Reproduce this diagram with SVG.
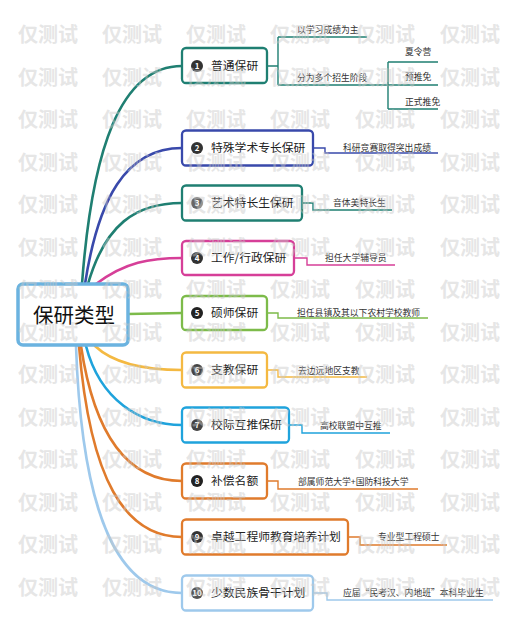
<svg xmlns="http://www.w3.org/2000/svg" xmlns:xlink="http://www.w3.org/1999/xlink" width="513" height="630" viewBox="0 0 513 630">
<style>
text{font-family:"Noto Sans CJK SC","Noto Sans",sans-serif}
.curve{fill:none;stroke-width:2.6;stroke-linecap:round}
.sub{fill:none;stroke-width:1.4}
.box{fill:#fff;stroke-width:2.3}
.lbl{font-size:11.8px;fill:#222}
.st{font-size:8.8px;fill:#333}
.num{font-size:8px;font-weight:bold;fill:#fff;text-anchor:middle}
.wm{font-size:20px;font-weight:bold;fill:#c8c8c8;opacity:0.45}
</style>
<defs><text id="wm" class="wm">仅测试</text></defs>
<rect width="513" height="630" fill="#fff"/>
<g id="connectors">
<path class="curve" stroke="#1f7f72" d="M82 284 C92 150,120 66,182 66"/>
<path class="curve" stroke="#3949ab" d="M85 284 C98 200,125 148,182 148"/>
<path class="curve" stroke="#1f7f72" d="M88 284 C105 225,135 203,182 203"/>
<path class="curve" stroke="#d63f98" d="M96 284 C125 262,150 258,182 258"/>
<path class="curve" stroke="#7dbb4a" d="M128 314 L182 313"/>
<path class="curve" stroke="#f4b942" d="M95 346 C115 365,150 370,182 370"/>
<path class="curve" stroke="#1fa3dc" d="M86 346 C100 400,140 425,182 425"/>
<path class="curve" stroke="#e07b2c" d="M81 346 C95 440,130 481,182 481"/>
<path class="curve" stroke="#e07b2c" d="M79 346 C90 480,125 537,182 537"/>
<path class="curve" stroke="#9ec9ec" d="M76 346 C82 520,120 593,182 593"/>
<path class="sub" stroke="#1f7f72" d="M267 66 H278 M278 37 V85 M278 37 H367 M278 85 H388 M388 62 V109 M388 62 H438 M388 85 H438 M388 109 H438"/>
<path class="sub" stroke="#3949ab" d="M313 148 H325 V153 H438"/>
<path class="sub" stroke="#1f7f72" d="M302 203 H313 V210 H392"/>
<path class="sub" stroke="#d63f98" d="M294 258 H307 V265 H395"/>
<path class="sub" stroke="#7dbb4a" d="M267 313 H278 V318 H428"/>
<path class="sub" stroke="#f4b942" d="M267 370 H278 V377 H367"/>
<path class="sub" stroke="#1fa3dc" d="M289 425 H302 V433 H390"/>
<path class="sub" stroke="#e07b2c" d="M267 481 H278 V489 H418"/>
<path class="sub" stroke="#e07b2c" d="M348 537 H360 V545 H447"/>
<path class="sub" stroke="#9ec9ec" d="M313 593 H327 V600 H493"/>
</g>
<g id="subtopics">
<text class="st" x="297" y="33">以学习成绩为主</text>
<text class="st" x="297" y="81">分为多个招生阶段</text>
<text class="st" x="405" y="55">夏令营</text>
<text class="st" x="405" y="80">预推免</text>
<text class="st" x="405" y="105">正式推免</text>
<text class="st" x="343" y="151">科研竞赛取得突出成绩</text>
<text class="st" x="333" y="206">音体美特长生</text>
<text class="st" x="325" y="261">担任大学辅导员</text>
<text class="st" x="297" y="316">担任县镇及其以下农村学校教师</text>
<text class="st" x="298" y="374">去边远地区支教</text>
<text class="st" x="320" y="429">高校联盟中互推</text>
<text class="st" x="298" y="485">部属师范大学+国防科技大学</text>
<text class="st" x="378" y="540">专业型工程硕士</text>
<text class="st" x="343" y="596">应届“民考汉、内地班”本科毕业生</text>
</g>
<g id="root">
<rect x="18" y="284" width="110" height="61" rx="5" fill="#fff" stroke="#6bb3e0" stroke-width="3.5"/>
<text x="74" y="323" font-size="20.5" fill="#111" text-anchor="middle">保研类型</text>
</g>
<g id="n1"><rect class="box" stroke="#1f7f72" x="182" y="48" width="85" height="35" rx="4"/><circle cx="197" cy="66" r="6" fill="#333"/><text class="num" x="197" y="69">1</text><text class="lbl" x="211" y="70">普通保研</text></g>
<g id="n2"><rect class="box" stroke="#3949ab" x="182" y="130.5" width="131" height="35" rx="4"/><circle cx="197" cy="148" r="6" fill="#333"/><text class="num" x="197" y="151">2</text><text class="lbl" x="211" y="152">特殊学术专长保研</text></g>
<g id="n3"><rect class="box" stroke="#1f7f72" x="182" y="185.5" width="120" height="35" rx="4"/><circle cx="197" cy="203" r="6" fill="#666"/><text class="num" x="197" y="206">3</text><text class="lbl" x="211" y="207">艺术特长生保研</text></g>
<g id="n4"><rect class="box" stroke="#d63f98" x="182" y="241" width="112" height="34" rx="4"/><circle cx="197" cy="258" r="6" fill="#333"/><text class="num" x="197" y="261">4</text><text class="lbl" x="211" y="262">工作/行政保研</text></g>
<g id="n5"><rect class="box" stroke="#7dbb4a" x="182" y="296" width="85" height="34" rx="4"/><circle cx="197" cy="313" r="6" fill="#222"/><text class="num" x="197" y="316">5</text><text class="lbl" x="211" y="317">硕师保研</text></g>
<g id="n6"><rect class="box" stroke="#f4b942" x="182" y="352.5" width="85" height="35" rx="4"/><circle cx="197" cy="370" r="6" fill="#444"/><text class="num" x="197" y="373">6</text><text class="lbl" x="211" y="374">支教保研</text></g>
<g id="n7"><rect class="box" stroke="#1fa3dc" x="182" y="407.5" width="107" height="35" rx="4"/><circle cx="197" cy="425" r="6" fill="#444"/><text class="num" x="197" y="428">7</text><text class="lbl" x="211" y="429">校际互推保研</text></g>
<g id="n8"><rect class="box" stroke="#e07b2c" x="182" y="463.5" width="85" height="35" rx="4"/><circle cx="197" cy="481" r="6" fill="#222"/><text class="num" x="197" y="484">8</text><text class="lbl" x="211" y="485">补偿名额</text></g>
<g id="n9"><rect class="box" stroke="#e07b2c" x="182" y="519.5" width="166" height="35" rx="4"/><circle cx="197" cy="537" r="6" fill="#333"/><text class="num" x="197" y="540">9</text><text class="lbl" x="211" y="541">卓越工程师教育培养计划</text></g>
<g id="n10"><rect class="box" stroke="#9ec9ec" x="182" y="575.5" width="131" height="35" rx="4"/><circle cx="197" cy="593" r="6" fill="#555"/><text class="num" x="197" y="596" font-size="6.5">10</text><text class="lbl" x="211" y="597" fill="#444">少数民族骨干计划</text></g>
<g id="watermark">
<use href="#wm" x="18" y="42"/><use href="#wm" x="102" y="42"/><use href="#wm" x="186" y="42"/><use href="#wm" x="270" y="42"/><use href="#wm" x="355" y="42"/><use href="#wm" x="440" y="42"/>
<use href="#wm" x="18" y="84.5"/><use href="#wm" x="102" y="84.5"/><use href="#wm" x="186" y="84.5"/><use href="#wm" x="270" y="84.5"/><use href="#wm" x="355" y="84.5"/><use href="#wm" x="440" y="84.5"/>
<use href="#wm" x="18" y="127"/><use href="#wm" x="102" y="127"/><use href="#wm" x="186" y="127"/><use href="#wm" x="270" y="127"/><use href="#wm" x="355" y="127"/><use href="#wm" x="440" y="127"/>
<use href="#wm" x="18" y="169.5"/><use href="#wm" x="102" y="169.5"/><use href="#wm" x="186" y="169.5"/><use href="#wm" x="270" y="169.5"/><use href="#wm" x="355" y="169.5"/><use href="#wm" x="440" y="169.5"/>
<use href="#wm" x="18" y="212"/><use href="#wm" x="102" y="212"/><use href="#wm" x="186" y="212"/><use href="#wm" x="270" y="212"/><use href="#wm" x="355" y="212"/><use href="#wm" x="440" y="212"/>
<use href="#wm" x="18" y="254.5"/><use href="#wm" x="102" y="254.5"/><use href="#wm" x="186" y="254.5"/><use href="#wm" x="270" y="254.5"/><use href="#wm" x="355" y="254.5"/><use href="#wm" x="440" y="254.5"/>
<use href="#wm" x="18" y="297"/><use href="#wm" x="102" y="297"/><use href="#wm" x="186" y="297"/><use href="#wm" x="270" y="297"/><use href="#wm" x="355" y="297"/><use href="#wm" x="440" y="297"/>
<use href="#wm" x="18" y="339.5"/><use href="#wm" x="102" y="339.5"/><use href="#wm" x="186" y="339.5"/><use href="#wm" x="270" y="339.5"/><use href="#wm" x="355" y="339.5"/><use href="#wm" x="440" y="339.5"/>
<use href="#wm" x="18" y="382"/><use href="#wm" x="102" y="382"/><use href="#wm" x="186" y="382"/><use href="#wm" x="270" y="382"/><use href="#wm" x="355" y="382"/><use href="#wm" x="440" y="382"/>
<use href="#wm" x="18" y="424.5"/><use href="#wm" x="102" y="424.5"/><use href="#wm" x="186" y="424.5"/><use href="#wm" x="270" y="424.5"/><use href="#wm" x="355" y="424.5"/><use href="#wm" x="440" y="424.5"/>
<use href="#wm" x="18" y="467"/><use href="#wm" x="102" y="467"/><use href="#wm" x="186" y="467"/><use href="#wm" x="270" y="467"/><use href="#wm" x="355" y="467"/><use href="#wm" x="440" y="467"/>
<use href="#wm" x="18" y="509.5"/><use href="#wm" x="102" y="509.5"/><use href="#wm" x="186" y="509.5"/><use href="#wm" x="270" y="509.5"/><use href="#wm" x="355" y="509.5"/><use href="#wm" x="440" y="509.5"/>
<use href="#wm" x="18" y="552"/><use href="#wm" x="102" y="552"/><use href="#wm" x="186" y="552"/><use href="#wm" x="270" y="552"/><use href="#wm" x="355" y="552"/><use href="#wm" x="440" y="552"/>
<use href="#wm" x="18" y="594.5"/><use href="#wm" x="102" y="594.5"/><use href="#wm" x="186" y="594.5"/><use href="#wm" x="270" y="594.5"/><use href="#wm" x="355" y="594.5"/><use href="#wm" x="440" y="594.5"/>
</g>
</svg>
